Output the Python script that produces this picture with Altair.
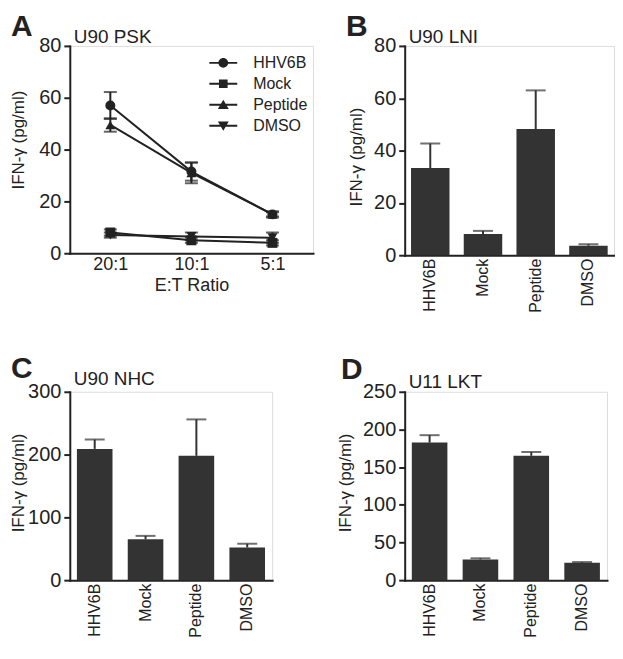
import altair as alt
import pandas as pd

FONT = "Liberation Sans, Arial, Helvetica, sans-serif"
INK = "#222222"
BAR = "#333333"
YTITLE = "IFN-\u03b3  (pg/ml)"

# ---------------- data ----------------
ratios = ["20:1", "10:1", "5:1"]
series = ["HHV6B", "Mock", "Peptide", "DMSO"]
a_hhv6b = [57.0, 31.5, 15.0]
a_hhv6b_err = [5.2, 3.5, 1.2]
a_mock = [8.0, 5.0, 4.0]
a_mock_err = [1.2, 1.0, 1.0]
a_peptide = [49.5, 31.0, 15.0]
a_peptide_err = [2.6, 4.0, 0.8]
a_dmso = [7.0, 6.5, 6.0]
a_dmso_err = [1.0, 1.5, 2.0]

groups = ["HHV6B", "Mock", "Peptide", "DMSO"]
b_vals = [33.3, 8.1, 48.2, 3.6]
b_err = [9.4, 1.2, 14.8, 0.6]
c_vals = [209, 65, 198, 52]
c_err = [15, 5.5, 58, 6]
d_vals = [182.6, 27.5, 165, 23]
d_err = [9.8, 1.5, 5, 1]

# ---------------- helpers ----------------
def y_axis(values, title_x, title_y):
    return alt.Axis(
        values=values, title=YTITLE, titleFont=FONT, titleFontSize=17,
        titleFontWeight="normal", titleColor=INK, titleAngle=270,
        titleX=title_x, titleY=title_y, titleAlign="center", titleBaseline="middle",
        labelFont=FONT, labelFontSize=20, labelColor=INK, labelPadding=3,
        tickSize=6, tickWidth=2, tickColor=INK, domainColor=INK, domainWidth=2,
        domainCap="square", grid=False, labelOverlap=False,
    )


def text_mark(txt, dx, dy, size, weight="normal"):
    return alt.Chart(pd.DataFrame({"t": [txt]})).mark_text(
        align="left", baseline="alphabetic", font=FONT, fontSize=size,
        fontWeight=weight, color=INK,
    ).encode(text="t:N", x=alt.value(dx), y=alt.value(dy))


# ---------------- panel A ----------------
rows = []
for name, vals, errs in [("HHV6B", a_hhv6b, a_hhv6b_err), ("Mock", a_mock, a_mock_err),
                         ("Peptide", a_peptide, a_peptide_err), ("DMSO", a_dmso, a_dmso_err)]:
    for i, r in enumerate(ratios):
        rows.append({"ratio": r, "idx": i, "series": name, "value": vals[i],
                     "lo": vals[i] - errs[i], "hi": vals[i] + errs[i]})
df_a = pd.DataFrame(rows)

xa = alt.X("ratio:N", sort=ratios,
           scale=alt.Scale(type="point", domain=ratios, padding=0.5),
           axis=alt.Axis(title="E:T Ratio", labelAngle=0, labelFont=FONT, labelFontSize=18,
                         labelColor=INK, labelPadding=2, ticks=False, tickSize=0,
                         domainColor=INK, domainWidth=2, domainCap="square",
                         titleFont=FONT, titleFontSize=18, titleFontWeight="normal",
                         titleColor=INK, titlePadding=3))
a_scale = alt.Scale(domain=[0, 80], nice=False)
a_axis = y_axis([0, 20, 40, 60, 80], -51, 94)
ya = alt.Y("value:Q", scale=a_scale, axis=a_axis)
ya_lo = alt.Y("lo:Q", scale=a_scale, axis=a_axis)
ya_hi = alt.Y("hi:Q", scale=a_scale, axis=a_axis)

base_a = alt.Chart(df_a)
lines_a = base_a.mark_line(color=INK, strokeWidth=2).encode(
    x=xa, y=ya, detail="series:N", order="idx:Q")
err_a = base_a.mark_rule(color=INK, strokeWidth=2).encode(x=xa, y=ya_lo, y2="hi:Q")
cap_hi = base_a.mark_tick(color=INK, thickness=2, size=13).encode(x=xa, y=ya_hi)
cap_lo = base_a.mark_tick(color=INK, thickness=2, size=13).encode(x=xa, y=ya_lo)
pts_a = base_a.mark_point(filled=True, size=100, opacity=1, color=INK).encode(
    x=xa, y=ya,
    shape=alt.Shape("series:N", scale=alt.Scale(domain=series,
                    range=["circle", "square", "triangle-up", "triangle-down"]), legend=None))

# legend symbols: a short line with the marker on it (unit = 7 px)
LINE = "M-2,-0.14H2V0.14H-2Z"
legend_paths = [
    LINE + "M0.7,0A0.7,0.7 0 1 1 -0.7,0A0.7,0.7 0 1 1 0.7,0Z",
    LINE + "M-0.62,-0.62H0.62V0.62H-0.62Z",
    LINE + "M0,-0.72L0.78,0.6H-0.78Z",
    LINE + "M0,0.72L-0.78,-0.6H0.78Z",
]
leg_a = base_a.mark_point(filled=True, fill=INK, opacity=0, size=10).encode(
    x=xa, y=ya,
    shape=alt.Shape("series:N", scale=alt.Scale(domain=series, range=legend_paths),
                    legend=alt.Legend(title=None, orient="none", legendX=146, legendY=9,
                                      symbolSize=196, symbolFillColor=INK,
                                      symbolStrokeWidth=0, symbolOpacity=1,
                                      labelFont=FONT, labelFontSize=16, labelColor=INK,
                                      labelOffset=22, rowPadding=5)))

panel_a = alt.layer(
    lines_a, err_a, cap_hi, cap_lo, pts_a, leg_a,
    text_mark("A", -59, -10, 30, "bold"), text_mark("U90 PSK", 4, -3, 19),
).resolve_scale(shape="independent").properties(width=244, height=208)


# ---------------- bar panels ----------------
def bar_panel(vals, errs, ymax, ticks, width, height, p_in, p_out, tx, ty,
              letter, lpos, title, tpos):
    df = pd.DataFrame({"group": groups, "value": vals,
                       "hi": [v + e for v, e in zip(vals, errs)]})
    x = alt.X("group:N", sort=groups,
              scale=alt.Scale(paddingInner=p_in, paddingOuter=p_out),
              axis=alt.Axis(title=None, labelAngle=270, labelFont=FONT, labelFontSize=16,
                            labelColor=INK, labelPadding=3, ticks=False, tickSize=0,
                            domainColor=INK, domainWidth=2, domainCap="square"))
    sc = alt.Scale(domain=[0, ymax], nice=False)
    ax = y_axis(ticks, tx, ty)
    y = alt.Y("value:Q", scale=sc, axis=ax)
    y_hi = alt.Y("hi:Q", scale=sc, axis=ax)
    base = alt.Chart(df)
    bars = base.mark_bar(color=BAR).encode(x=x, y=y)
    err = base.mark_rule(color=BAR, strokeWidth=2).encode(x=x, y=y, y2="hi:Q")
    cap = base.mark_tick(color=BAR, thickness=2, size=20).encode(x=x, y=y_hi)
    return alt.layer(
        bars, err, cap,
        text_mark(letter, lpos[0], lpos[1], 30, "bold"),
        text_mark(title, tpos[0], tpos[1], 19),
    ).properties(width=width, height=height)


panel_b = bar_panel(b_vals, b_err, 80, [0, 20, 40, 60, 80], 210, 210, 0.27, 0.12,
                    -48, 111, "B", (-59, -10), "U90 LNI", (4, -3))
panel_c = bar_panel(c_vals, c_err, 300, [0, 100, 200, 300], 203, 189, 0.3, 0.14,
                    -51, 91, "C", (-59, -14), "U90 NHC", (4, -7))
panel_d = bar_panel(d_vals, d_err, 250, [0, 50, 100, 150, 200, 250], 203, 189, 0.3, 0.14,
                    -59, 91, "D", (-64, -13), "U11 LKT", (4, -4))

chart = alt.concat(
    panel_a, panel_b, panel_c, panel_d, columns=2,
    spacing={"row": 137, "column": 92}, bounds="flush", align="each",
).properties(padding={"left": 1, "top": 2, "right": 0, "bottom": 0}
).configure_view(stroke=None).configure(font=FONT)

chart.save("out.html", embed_options={"renderer": "svg", "actions": False})
